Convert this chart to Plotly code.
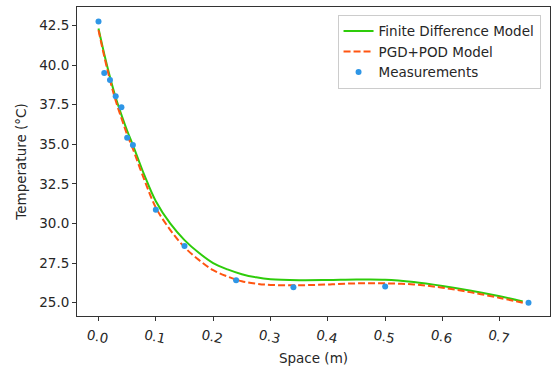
import plotly.graph_objects as go

# Measurements
meas_x = [0.0, 0.01, 0.02, 0.03, 0.04, 0.05, 0.06, 0.10, 0.15, 0.24, 0.34, 0.50, 0.75]
meas_y = [42.75, 39.49, 39.05, 38.02, 37.34, 35.41, 34.95, 30.86, 28.57, 26.41, 25.98, 26.02, 25.0]

# Model curves
model_x = [0.0, 0.01, 0.02, 0.03, 0.04, 0.05, 0.06, 0.08, 0.10, 0.125, 0.15, 0.175, 0.2,
           0.225, 0.25, 0.275, 0.3, 0.35, 0.4, 0.45, 0.5, 0.55, 0.6, 0.65, 0.7, 0.74]
fd_y = [42.3, 40.7, 39.25, 37.95, 36.85, 35.85, 34.95, 33.05, 31.4, 30.0, 28.95, 28.15, 27.5,
        27.1, 26.8, 26.6, 26.48, 26.42, 26.43, 26.46, 26.45, 26.3, 26.05, 25.75, 25.4, 25.08]
pgd_y = [42.2, 40.55, 39.05, 37.75, 36.65, 35.6, 34.7, 32.75, 31.0, 29.6, 28.5, 27.7, 27.05,
         26.65, 26.35, 26.2, 26.12, 26.1, 26.15, 26.22, 26.22, 26.15, 25.95, 25.65, 25.3, 25.0]

x_ticks = [0.0, 0.1, 0.2, 0.3, 0.4, 0.5, 0.6, 0.7]
y_ticks = [25.0, 27.5, 30.0, 32.5, 35.0, 37.5, 40.0, 42.5]

FS = 13.5
font = dict(family="DejaVu Sans", size=FS, color="#262626")

fig = go.Figure()
fig.add_trace(go.Scatter(x=model_x, y=fd_y, mode="lines", name="Finite Difference Model",
                         line=dict(color="#2ecc0a", width=2, shape="spline")))
fig.add_trace(go.Scatter(x=model_x, y=pgd_y, mode="lines", name="PGD+POD Model",
                         line=dict(color="#ff5511", width=2, dash="7px,3px", shape="spline")))
fig.add_trace(go.Scatter(x=meas_x, y=meas_y, mode="markers", name="Measurements",
                         marker=dict(color="#2e96e6", size=6)))

axis_common = dict(showgrid=False, zeroline=False, showline=True, linecolor="#333333",
                   linewidth=1, mirror=True, ticks="outside", ticklen=4, tickwidth=1,
                   tickcolor="#333333", tickfont=font)

fig.update_layout(
    width=552, height=374,
    margin=dict(l=77, r=2, t=7, b=58),
    plot_bgcolor="white", paper_bgcolor="white",
    font=font,
    xaxis=dict(range=[-0.0375, 0.7875], tickvals=x_ticks, ticktext=[f"{v:.1f}" for v in x_ticks],
               tickangle=12, ticklabelshift=-11, ticklabelstandoff=2,
               title=dict(text="Space (m)", font=font, standoff=8),
               **axis_common),
    yaxis=dict(range=[24.16, 43.66], tickvals=y_ticks, ticktext=[f"{v:.1f}" for v in y_ticks],
               title=dict(text="Temperature (°C)", font=font, standoff=9),
               **axis_common),
    legend=dict(x=0.98, y=0.975, xanchor="right", yanchor="top",
                bgcolor="rgba(255,255,255,0.8)", bordercolor="#cccccc", borderwidth=1,
                font=font, itemwidth=30, tracegroupgap=0),
    showlegend=True,
)

fig.write_html("out.html")
